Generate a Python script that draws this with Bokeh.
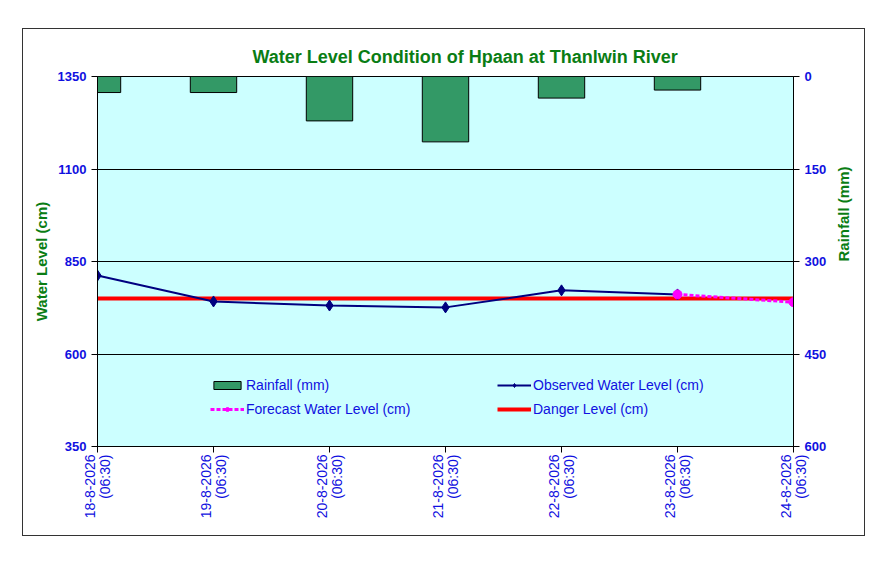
import math
from bokeh.plotting import figure
from bokeh.models import (Range1d, LinearAxis, FixedTicker, Legend, LegendItem)
from bokeh.embed import file_html
from bokeh.resources import INLINE

# ---- data ----
dates = ["18-8-2026", "19-8-2026", "20-8-2026", "21-8-2026",
         "22-8-2026", "23-8-2026", "24-8-2026"]
obs_time = "(06:30)"
rain_mm = [26, 26, 72, 106, 35, 22]            # dates 0..5
observed_cm = [812, 742, 731, 726, 772, 761]   # dates 0..5
forecast_cm = [761, 740]                       # dates 5..6
danger_cm = 750
wl_ticks = [350, 600, 850, 1100, 1350]
rain_ticks = [0, 150, 300, 450, 600]

x_all = list(range(len(dates)))
x_rain = x_all[:len(rain_mm)]
x_obs = x_all[:len(observed_cm)]
x_fc = x_all[len(observed_cm) - 1:len(observed_cm) - 1 + len(forecast_cm)]

FONT = "Liberation Sans"
BLUE = "#1010E0"
GREEN = "#0A7D14"

p = figure(frame_width=696, frame_height=370,
           x_range=Range1d(0, len(dates) - 1),
           y_range=Range1d(wl_ticks[0], wl_ticks[-1]),
           output_backend="svg", toolbar_location=None,
           min_border_left=74, min_border_right=71,
           min_border_top=47, min_border_bottom=89,
           background_fill_color="#CCFFFF", border_fill_color="white",
           outline_line_color="black", outline_line_width=1)
p.margin = (28, 0, 0, 22)
p.styles = {"border": "1px solid #333333"}

p.extra_y_ranges = {"rain": Range1d(start=rain_ticks[-1], end=rain_ticks[0])}

# title
p.title.text = "Water Level Condition of Hpaan at Thanlwin River"
p.title.text_font = FONT
p.title.text_font_size = "18px"
p.title.text_font_style = "bold"
p.title.text_color = GREEN
p.title.align = "left"
p.title.offset = 155
p.title.standoff = 20

# axes
p.xaxis.ticker = FixedTicker(ticks=x_all)
p.xaxis.major_label_overrides = {i: f"{d}\n{obs_time}" for i, d in enumerate(dates)}
p.xaxis.major_label_orientation = math.pi / 2
p.xaxis.major_label_text_font = FONT
p.xaxis.major_label_text_font_size = "14px"
p.xaxis.major_label_text_color = BLUE
p.xaxis.major_label_text_line_height = 0.95
p.xaxis.major_label_standoff = 2

p.yaxis.ticker = FixedTicker(ticks=wl_ticks)
p.yaxis.axis_label = "Water Level (cm)"
p.yaxis.major_label_text_font_style = "bold"

right = LinearAxis(y_range_name="rain", ticker=FixedTicker(ticks=rain_ticks),
                   axis_label="Rainfall (mm)")
right.major_label_text_font_style = "bold"
try:
    right.axis_label_orientation = math.pi / 2
except Exception:
    pass
p.add_layout(right, "right")

for ax in [p.xaxis[0], p.yaxis[0], right]:
    ax.axis_line_color = "black"
    ax.major_tick_line_color = "black"
    ax.major_tick_in = 0
    ax.major_tick_out = 6
    ax.minor_tick_line_color = None
    ax.major_label_text_font = FONT
    ax.major_label_text_color = BLUE
    ax.axis_label_text_font = FONT
    ax.axis_label_text_font_size = "15px"
    ax.axis_label_text_font_style = "bold"
    ax.axis_label_text_color = GREEN
for ax in [p.yaxis[0], right]:
    ax.major_label_text_font_size = "13px"
p.yaxis[0].axis_label_standoff = 5
right.axis_label_standoff = 14

p.xgrid.grid_line_color = None
p.ygrid.grid_line_color = "black"
p.ygrid.grid_line_width = 1

# glyphs
r_rain = p.vbar(x=x_rain, top=rain_mm, bottom=0, width=0.4, y_range_name="rain",
                fill_color="#339966", line_color="black", line_width=1)
r_danger = p.line(x=[x_all[0], x_all[-1]], y=[danger_cm, danger_cm],
                  line_color="#FF0000", line_width=4)
r_obs_l = p.line(x=x_obs, y=observed_cm, line_color="#000080", line_width=2)
r_obs_m = p.scatter(x=x_obs, y=observed_cm, marker="diamond", size=11,
                    fill_color="#000080", line_color="#000080")
r_fc_l = p.line(x=x_fc, y=forecast_cm, line_color="#FF00FF", line_width=3,
                line_dash="4 2")
r_fc_m = p.scatter(x=x_fc, y=forecast_cm, marker="circle", size=9,
                   fill_color="#FF00FF", line_color="#FF00FF")

def mk_legend(items, loc):
    lg = Legend(items=items, location=loc, padding=0, margin=0, spacing=4,
                glyph_width=34, glyph_height=10, label_height=20,
                label_standoff=2, background_fill_alpha=0,
                border_line_alpha=0, label_text_font=FONT,
                label_text_font_size="14px", label_text_color=BLUE)
    return lg

lg1 = mk_legend([LegendItem(label="Rainfall (mm)", renderers=[r_rain]),
                 LegendItem(label="Forecast Water Level (cm)", renderers=[r_fc_l, r_fc_m])],
                (113, 27))
lg2 = mk_legend([LegendItem(label="Observed Water Level (cm)", renderers=[r_obs_l, r_obs_m]),
                 LegendItem(label="Danger Level (cm)", renderers=[r_danger])],
                (400, 27))
p.add_layout(lg1, "center")
p.add_layout(lg2, "center")

open("out.html", "w").write(file_html(p, INLINE))
